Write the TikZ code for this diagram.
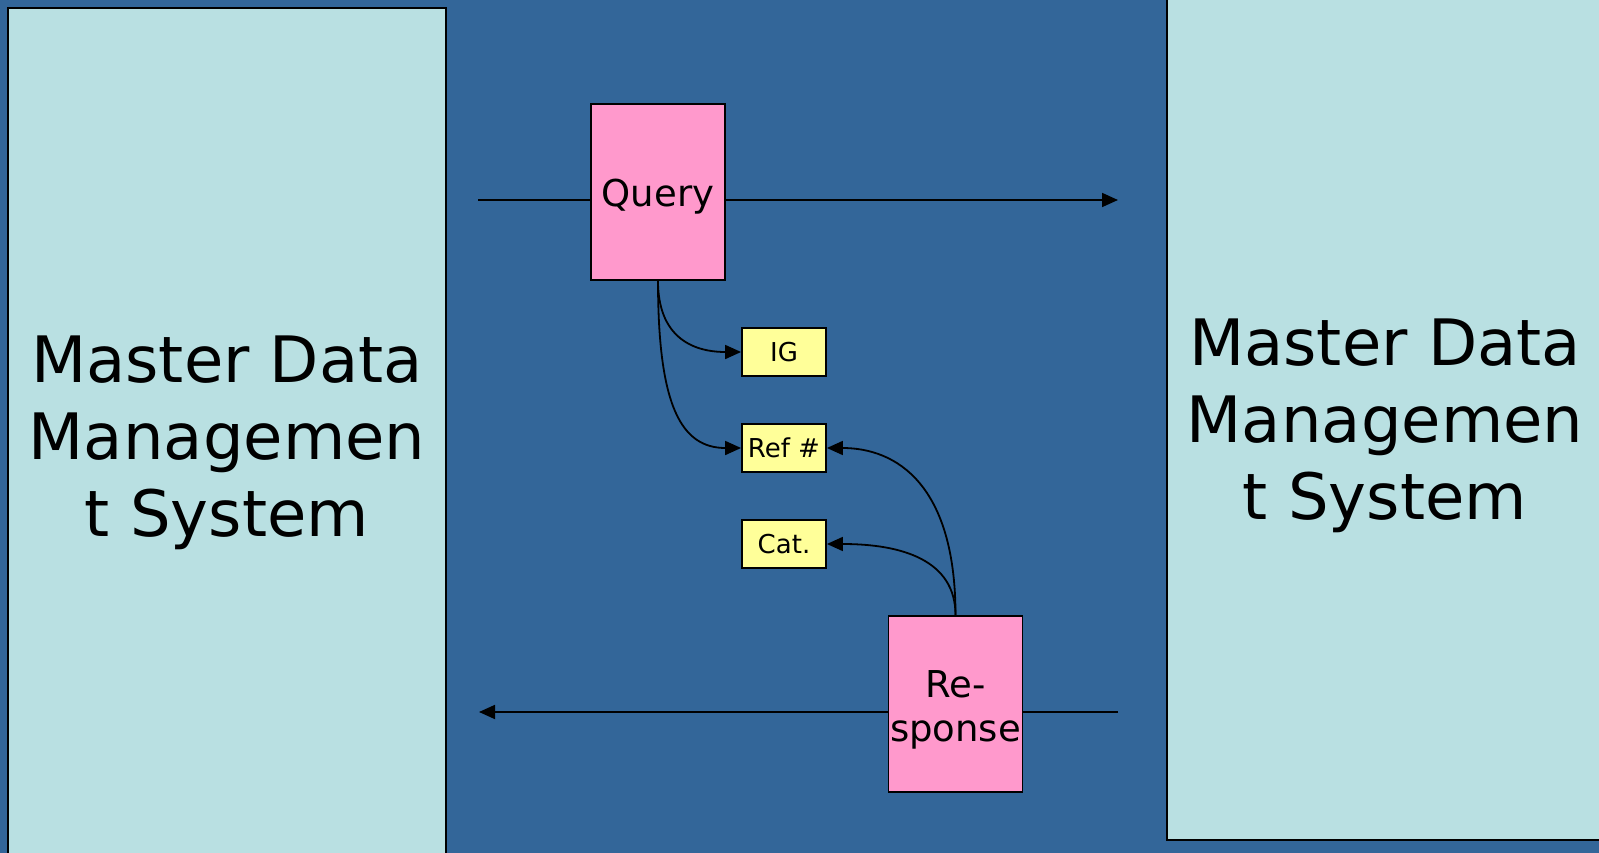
\documentclass[tikz,border=0pt]{standalone}
\usepackage{fontspec}
\setmainfont{DejaVu Sans}
\usetikzlibrary{arrows.meta}
\definecolor{bgblue}{HTML}{336699}
\definecolor{syscol}{HTML}{B9E0E2}
\definecolor{msgpink}{HTML}{FF99CC}
\definecolor{fieldyel}{HTML}{FFFF99}
\tikzset{
  sysbox/.style={draw=black, line width=1.8pt, fill=syscol, inner sep=0pt},
  systext/.style={inner sep=0pt, align=center, font=\fontsize{64}{77}\selectfont},
  msgbox/.style={draw=black, line width=1.8pt, fill=msgpink, inner sep=0pt,
    minimum width=134pt, minimum height=176pt},
  msgtext/.style={inner sep=0pt, align=center, font=\fontsize{37}{44}\selectfont},
  fieldbox/.style={draw=black, line width=1.8pt, fill=fieldyel, inner sep=0pt,
    minimum width=84pt, minimum height=48pt, font=\fontsize{26}{30}\selectfont},
  flow/.style={line width=1.8pt},
  tip/.style={line width=1.8pt, -{Triangle[length=16pt,width=14pt]}}
}
\begin{document}
\begin{tikzpicture}[x=1pt, y=-1pt]
  \useasboundingbox (0,0) rectangle (1599,853);
  \fill[bgblue] (0,0) rectangle (1599,853);

  % the two master data systems
  \node[sysbox, minimum width=438pt, minimum height=856pt] (left) at (227,436) {};
  \node[sysbox, minimum width=440pt, minimum height=850pt] (right) at (1387,415) {};
  \node[systext] (lefttext) at (227,443) {Master Data\\Managemen\\t System};
  \node[systext] (righttext) at (1385,426) {Master Data\\Managemen\\t System};

  % messages
  \node[msgbox] (query) at (658,192) {};
  \node[msgtext] (querytext) at ([yshift=-5pt]query.center) {Query};
  \node[msgbox] (resp) at (955.5,704) {};
  \node[msgtext] (resptext) at ([yshift=-6pt]resp.center) {Re-\\sponse};

  % message fields
  \node[fieldbox] (ig) at (784,352) {IG};
  \node[fieldbox] (ref) at (784,448) {Ref \#};
  \node[fieldbox] (cat) at (784,544) {Cat.};

  % ends of the horizontal flows
  \coordinate (qin) at (478,200);
  \coordinate (qout) at (1118,200);
  \coordinate (rin) at (1118,712);
  \coordinate (rout) at (479,712);

  \draw[flow] (qin) -- (qin -| query.west);
  \draw[tip] (qout -| query.east) -- (qout);
  \draw[flow] (rin) -- (rin -| resp.east);
  \draw[tip] (rout -| resp.west) -- (rout);

  % fields carried by each message
  \draw[tip] (query.south) .. controls +(0,55) and +(-50,0) .. (ig.west);
  \draw[tip] (query.south) .. controls +(0,125) and +(-60,0) .. (ref.west);
  \draw[tip] (resp.north) .. controls +(0,-130) and +(70,0) .. (ref.east);
  \draw[tip] (resp.north) .. controls +(0,-55) and +(75,0) .. (cat.east);
\end{tikzpicture}
\end{document}
